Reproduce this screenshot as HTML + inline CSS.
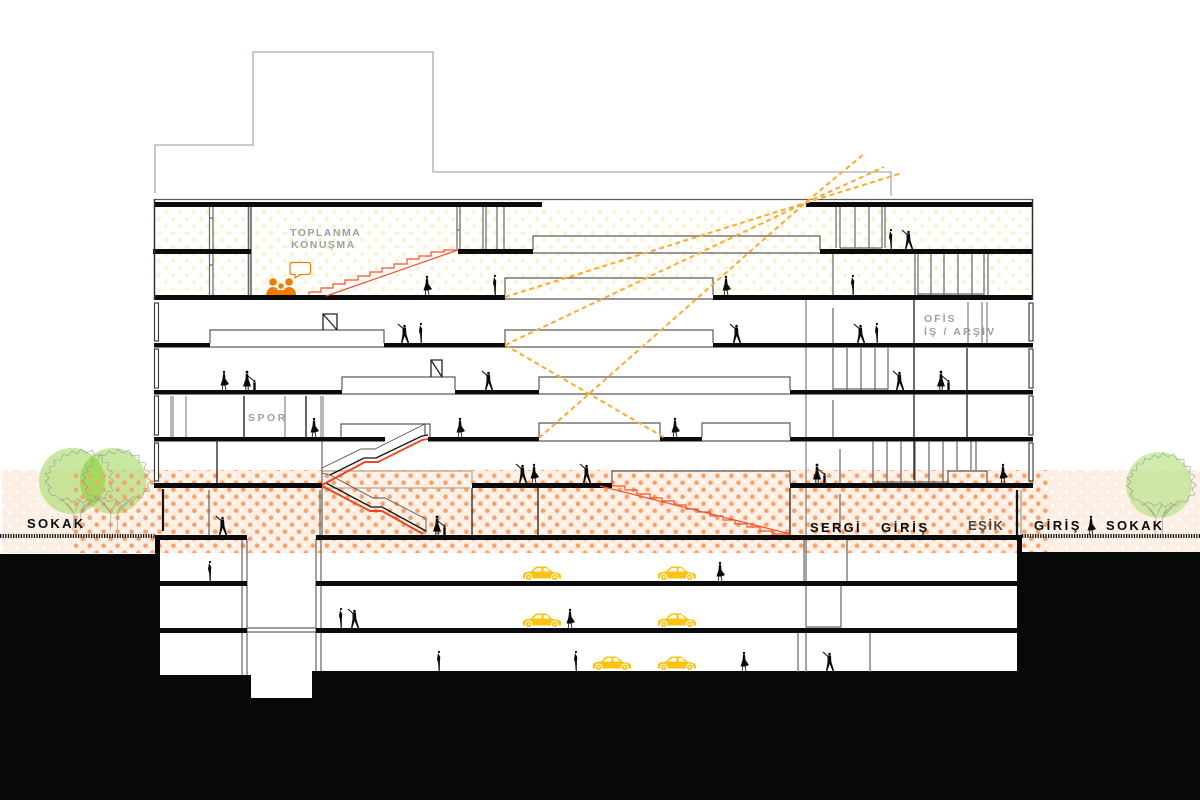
<!DOCTYPE html>
<html><head><meta charset="utf-8"><style>html,body{margin:0;padding:0;background:#fff}svg{display:block}text{font-family:"Liberation Sans",sans-serif;font-weight:700}</style></head><body>
<svg width="1200" height="800" viewBox="0 0 1200 800" xmlns="http://www.w3.org/2000/svg">
<defs>
<pattern id="py" width="14" height="14" patternUnits="userSpaceOnUse"><circle cx="12" cy="2" r="2.1" fill="#fbf3cf"/><circle cx="5" cy="9" r="2.1" fill="#fbf3cf"/><circle cx="-2" cy="2" r="2.1" fill="#fbf3cf"/><circle cx="12" cy="16" r="2.1" fill="#fbf3cf"/></pattern>
<pattern id="pw" width="14" height="14" patternUnits="userSpaceOnUse"><circle cx="2.700" cy="1.700" r="1.600" fill="#fff"/><circle cx="9.700" cy="8.700" r="1.600" fill="#fff"/></pattern>
<pattern id="pi" width="14" height="14" patternUnits="userSpaceOnUse"><circle cx="3.300" cy="6" r="1.400" fill="#fff"/><circle cx="10.300" cy="13" r="1.400" fill="#fff"/></pattern>
<pattern id="po" width="13.950" height="14" patternUnits="userSpaceOnUse"><circle cx="6" cy="13.700" r="2.300" fill="#f9a16a"/><circle cx="6" cy="-.3" r="2.300" fill="#f9a16a"/><circle cx="13" cy="6.700" r="2.300" fill="#f9a16a"/><circle cx="-.95" cy="6.700" r="2.300" fill="#f9a16a"/></pattern>
<g id="skirt" fill="#0a0a0a"><circle cx="0" cy="-18" r="1.200"/><path d="M-1-16.500H1L1.500-11 5-6 1.500-4.500H-3.500L-1.500-11Z"/><path d="M-1.200-4.500-1.800 0M1-4.500 2 0" stroke="#0a0a0a" stroke-width=".8"/></g>
<g id="wave" fill="#0a0a0a"><circle cx="-.5" cy="-17" r="1.300"/><path d="M-2.500-15.500H1L1.400-9 4.200 0H2.600L-.4-7-2.600 0H-4L-2.500-9Z"/><path d="M-2-14.500-7-19" stroke="#0a0a0a" stroke-width="1.100"/></g>
<g id="thin" fill="#0a0a0a"><circle cx="0" cy="-19" r="1.100"/><path d="M-1-18 1.300-14 .9-9 .8 0H-.3L-.9-8-2-12Z"/></g>
<g id="pair" fill="#0a0a0a"><circle cx="0" cy="-18" r="1.400"/><path d="M-1.200-16.300H1.200L1.500-11 4-3.500H-4L-1.500-11Z"/><path d="M-1.200-3.500-1.200 0M1.200-3.500 1.200 0M1-14 7-9" stroke="#0a0a0a" stroke-width=".9"/><circle cx="7.500" cy="-9" r="1"/><path d="M6.300-7.800H8.700V0H6.300Z"/></g>
<g id="car"><path d="M0 11V8C2 6 4 6 8 5.500L13 .5H23L30 6C34 6.500 38 7 38 10V12.500H0Z" fill="#fbc20f"/><path d="M10 5.500 14 2H18.500V5.500ZM20.500 2H23.500L27 5.500H20.500Z" fill="#fff"/><circle cx="5.700" cy="11.300" r="3.300" fill="#fbc20f" stroke="#fff" stroke-width="1"/><circle cx="5.700" cy="11.300" r="1.100" fill="#fff"/><circle cx="31.700" cy="11.300" r="3.300" fill="#fbc20f" stroke="#fff" stroke-width="1"/><circle cx="31.700" cy="11.300" r="1.100" fill="#fff"/></g>
<g id="tree" fill="none" stroke="#8f9a8a" stroke-width=".6" stroke-linejoin="round"><path d="M-27 14-30 9-27 6-33 1-29-3-33-7-27-9-29-14-23-15-24-21-17-21-15-27-10-25-6-30-1-27 3-32 8-28 14-31 17-25 24-26 24-19 31-18 29-12 35-9 31-4 36 0 32 4 35 10 29 11 27 17 21 16 17 21 11 18 5 22 0 18-6 21-11 17-17 20-21 15Z"/><path d="M-5 50-4 32-17 17M-4 32-11 22M-3 30 2 19M2 50 3 30 13 19M3 32 19 15M3 30 7 23"/></g>
</defs>
<rect width="1200" height="800" fill="#fff"/>
<path d="M155 193V145H253V52H433V172H891V196" fill="none" stroke="#a5b1ad" stroke-width="1.300"/>
<rect x="2" y="470" width="1198" height="83" fill="#fdefe3"/>
<rect x="2" y="470" width="72" height="83" fill="url(#pw)"/>
<rect x="1050" y="470" width="150" height="83" fill="url(#pw)"/>
<rect x="74" y="470" width="976" height="83" fill="url(#pi)"/>
<circle cx="72" cy="481" r="33" fill="#b3de7c" fill-opacity=".72"/>
<circle cx="113" cy="481" r="33" fill="#b3de7c" fill-opacity=".72"/>
<path d="M92.500 455.100A33 33 0 0 1 92.500 506.900A33 33 0 0 1 92.500 455.100Z" fill="#9ad850" fill-opacity=".75"/>
<circle cx="1159" cy="485" r="33" fill="#b3de7c" fill-opacity=".62"/>
<rect x="74" y="470" width="976" height="83" fill="url(#po)"/>
<use href="#tree" x="78" y="481"/><use href="#tree" x="115" y="481"/><use href="#tree" x="1160" y="485"/>
<rect x="157" y="207" width="874" height="88" fill="url(#py)"/>
<rect x="0" y="554" width="160" height="246" fill="#070808"/>
<rect x="1017" y="552" width="183" height="248" fill="#070808"/>
<rect x="160" y="675" width="91" height="125" fill="#070808"/>
<rect x="251" y="698" width="61" height="102" fill="#070808"/>
<rect x="312" y="671" width="705" height="129" fill="#070808"/>
<rect x="155" y="537" width="5" height="20" fill="#070808"/>
<rect x="1017" y="537" width="5" height="20" fill="#070808"/>
<rect x="160" y="553" width="857" height="118" fill="#fff"/>
<rect x="160" y="671" width="152" height="4" fill="#fff"/>
<rect x="251" y="675" width="61" height="23" fill="#fff"/>
<path d="M0 536H155M1022 536H1200" stroke="#111" stroke-width="4" stroke-dasharray="1.300 1.300"/>
<g fill="none" stroke="#5a5a5a" stroke-width="1.200">
<path d="M154 199.500H1033"/>
<path d="M533 250V236H820V250M533 253H820"/>
<path d="M505 295V278H713V295M505 299H713"/>
<path d="M210 343V330H384V343M210 347H384"/>
<path d="M505 343V330H713V343M505 347H713"/>
<path d="M342 390V377H455V390M342 394H455"/>
<path d="M539 390V377H790V390M539 394H790"/>
<path d="M341 437V424H430V437M425 424V435"/>
<path d="M539 437V423H660V437M539 441H660"/>
<path d="M702 437V423H790V437M702 441H790"/>
<path d="M612 483V471H790V483"/>
<path d="M948 483V471H987V483"/>
</g>
<path d="M322 471H472V483M322 488H470" fill="none" stroke="#b7a392" stroke-width="1.200"/>
<path d="M323 330V314H337V330M323 314 337 330M431 377V360H442V377M431 360 442 377" fill="none" stroke="#222" stroke-width="1.300"/>
<g fill="none" stroke="#666" stroke-width="1.200">
<path d="M209.500 207V295M213 207V295M209.500 218H213M209.500 265H213M457 207V249M460 207V249M457 230H460M483 207V249M486 207V249M497 207V249M504 207V249"/>
<path d="M248.500 207V295M251 207V295" stroke-width="1.600"/>
<path d="M171 396V437M173 396V437M186 396V437M285 396V437M321 396V437M323 396V437" stroke="#8a8a8a"/>
<path d="M244 396V437M306 396V437" stroke="#333" stroke-width="1.500"/>
<path d="M836 207V248M840 207V248M855 207V248M869 207V248M882 207V248M885 207V248"/><path d="M840 248H882"/>
<path d="M833 253V295M915 254V295M918 254V295M931 254V295M944 254V295M958 254V295M972 254V295M984 254V295M988 254V295M918 294H984"/>
<path d="M806 300V535M968 302V343M982 302V343M987 302V343" stroke-width="1"/>
<path d="M833 348V390M833 308V343M833 400V437M847 348V390M861 348V390M875 348V390M888 348V390M833 389H888"/>
<path d="M873 441V483M887 441V483M901 441V483M915 441V483M929 441V483M943 441V483M957 441V470M971 441V470M976 441V470M873 482H948"/>
<path d="M840 449V483M840 494V533"/>
<path d="M209 490V535M320 490V535M322 441V483M322 488V535"/>
<path d="M804 539V581M806 539V581M847 539V581M798 632V672M806 632V672M870 632V672"/>
<path d="M242 539V675M247 539V675M316 539V671M321 539V671M247 628H316M247 632H316"/>
<path d="M806 586V627H841V586"/>
</g>
<g fill="none" stroke="#1f1f1f" stroke-width="1.300"><path d="M914 300V480M967 348V437M217 441V483M472 488V535M538 488V535M790 488V535"/></g>
<path d="M163 489V531M1017 490V535" stroke="#111" stroke-width="2.200"/><path d="M1021 490V535" stroke="#888"/>
<g fill="#0b0b0b">
<rect x="154" y="202" width="388" height="5"/><rect x="806" y="202" width="227" height="5"/>
<rect x="153" y="249" width="98" height="5"/><rect x="458" y="249" width="75" height="5"/><rect x="820" y="249" width="213" height="5"/>
<rect x="154" y="295" width="351" height="5"/><rect x="713" y="295" width="320" height="5"/>
<rect x="154" y="343" width="56" height="4.500"/><rect x="384" y="343" width="121" height="4.500"/><rect x="713" y="343" width="320" height="4.500"/>
<rect x="154" y="390" width="188" height="4.500"/><rect x="455" y="390" width="84" height="4.500"/><rect x="790" y="390" width="243" height="4.500"/>
<rect x="154" y="437" width="231" height="4.500"/><rect x="428" y="437" width="111" height="4.500"/><rect x="660" y="437" width="42" height="4.500"/><rect x="790" y="437" width="243" height="4.500"/>
<rect x="154" y="483" width="168" height="5"/><rect x="472" y="483" width="140" height="5"/><rect x="790" y="483" width="243" height="5"/>
<rect x="155" y="535" width="92" height="5"/><rect x="316" y="535" width="706" height="5"/>
<rect x="160" y="581" width="87" height="5"/><rect x="316" y="581" width="701" height="5"/>
<rect x="160" y="628" width="87" height="5"/><rect x="316" y="628" width="701" height="5"/>
</g>
<g fill="#fff" stroke="#333" stroke-width="1.100"><rect x="154.500" y="303" width="4" height="38"/><rect x="154.500" y="349" width="4" height="39"/><rect x="154.500" y="396" width="4" height="39"/><rect x="154.500" y="443" width="4" height="38"/><rect x="1029" y="303" width="4" height="38"/><rect x="1029" y="349" width="4" height="39"/><rect x="1029" y="396" width="4" height="39"/><rect x="1029" y="443" width="4" height="38"/></g>
<path d="M154.500 199V300M1032.500 199V300" stroke="#333" stroke-width="1.500"/>
<g fill="none" stroke="#f4502a" stroke-width="1.200">
<path d="M309 295V292H321V288H333V284H345V280H358V276H370V272H382V268H394V264H407V259H419V256H431V252H444V250H458M326 296 458 250"/>
<path d="M600 486 790 534M612 486H625V490H637V494H650V498H662V501H674V505H686V509H698V512H710V516H723V520H735V524H747V527H760V531H772V534H791"/>
</g>
<path d="M322 468 361 449H375L425 424M322 473 330 475 373 498H385L426 519V532" fill="none" stroke="#555" stroke-width=".9"/>
<path d="M330 475 364 458H376L422 436 428 435M326 483 371 507H382L426 531" fill="none" stroke="#111" stroke-width="1.300"/>
<path d="M322 485 365 462H378L422 440 428 439M322 486 370 511H382L423 534" fill="none" stroke="#f4411e" stroke-width="1.900"/>
<g fill="none" stroke="#fbab2d" stroke-width="2" stroke-dasharray="5 3.500">
<path d="M505 297 805 203 902 173M505 345 805 203 884 167M539 438 805 203 864 154M505 345 665 438"/>
</g>
<g fill="#ef7c00"><circle cx="273" cy="282" r="3.800"/><circle cx="289" cy="282" r="3.800"/><circle cx="281" cy="286" r="2.800"/><path d="M266 295C267 289 270 287 273 287 276 287 279 289 280 295ZM282 295C283 289 286 287 289 287 293 287 296 290 296 295Z"/><path d="M274 295C275 291 278 290 281 290 284 290 287 291 288 295Z"/></g>
<path d="M292 262.500H308Q310.500 262.500 310.500 265V272Q310.500 274.500 308 274.500H300L295 278V274.500H292Q290 274.500 290 272V265Q290 262.500 292 262.500Z" fill="#fff" stroke="#ef7c00" stroke-width="1.200"/>
<use href="#skirt" x="427" y="295"/><use href="#thin" x="495" y="295"/><use href="#skirt" x="726" y="295"/><use href="#thin" x="853" y="295"/>
<use href="#thin" x="891" y="249"/><use href="#wave" x="909" y="249"/>
<use href="#wave" x="405" y="343"/><use href="#thin" x="421" y="343"/><use href="#wave" x="737" y="343"/><use href="#wave" x="861" y="343"/><use href="#thin" x="877" y="343"/>
<use href="#skirt" x="224" y="390"/><use href="#pair" x="247" y="390"/><use href="#wave" x="489" y="390"/><use href="#wave" x="900" y="390"/><use href="#pair" x="941" y="390"/>
<use href="#skirt" x="314" y="437"/><use href="#skirt" x="460" y="437"/><use href="#skirt" x="675" y="437"/>
<use href="#wave" x="523" y="483"/><use href="#skirt" x="534" y="483"/><use href="#wave" x="587" y="483"/><use href="#pair" x="817" y="483"/><use href="#skirt" x="1003" y="483"/>
<use href="#wave" x="223" y="535"/><use href="#pair" x="437" y="535"/><use href="#skirt" x="1091" y="535"/>
<use href="#thin" x="210" y="581"/><use href="#skirt" x="720" y="581"/>
<use href="#thin" x="341" y="628"/><use href="#wave" x="355" y="628"/><use href="#skirt" x="570" y="628"/>
<use href="#thin" x="439" y="671"/><use href="#thin" x="576" y="671"/><use href="#skirt" x="744" y="671"/><use href="#wave" x="830" y="671"/>
<use href="#car" x="523" y="566"/><use href="#car" x="658" y="566"/><use href="#car" x="523" y="613"/><use href="#car" x="658" y="613"/><use href="#car" x="593" y="656"/><use href="#car" x="658" y="656"/>
<g font-size="10.500" fill="#a0a0a0" letter-spacing="1.500"><text x="290" y="236">TOPLANMA</text><text x="291" y="248">KONUŞMA</text><text x="248" y="421" letter-spacing="2.500">SPOR</text><text x="924" y="322" letter-spacing="2">OFİS</text><text x="924" y="335" letter-spacing="2.200">İŞ / ARŞİV</text></g>
<g font-size="13" fill="#0a0a0a" letter-spacing="2.300"><text x="27" y="528">SOKAK</text><text x="810" y="532">SERGİ</text><text x="881" y="532" letter-spacing="2.700">GİRİŞ</text><text x="968" y="530" fill="#444" letter-spacing="1.500">EŞİK</text><text x="1034" y="530" letter-spacing="2.500">GİRİŞ</text><text x="1106" y="530">SOKAK</text></g>
</svg>
</body></html>
